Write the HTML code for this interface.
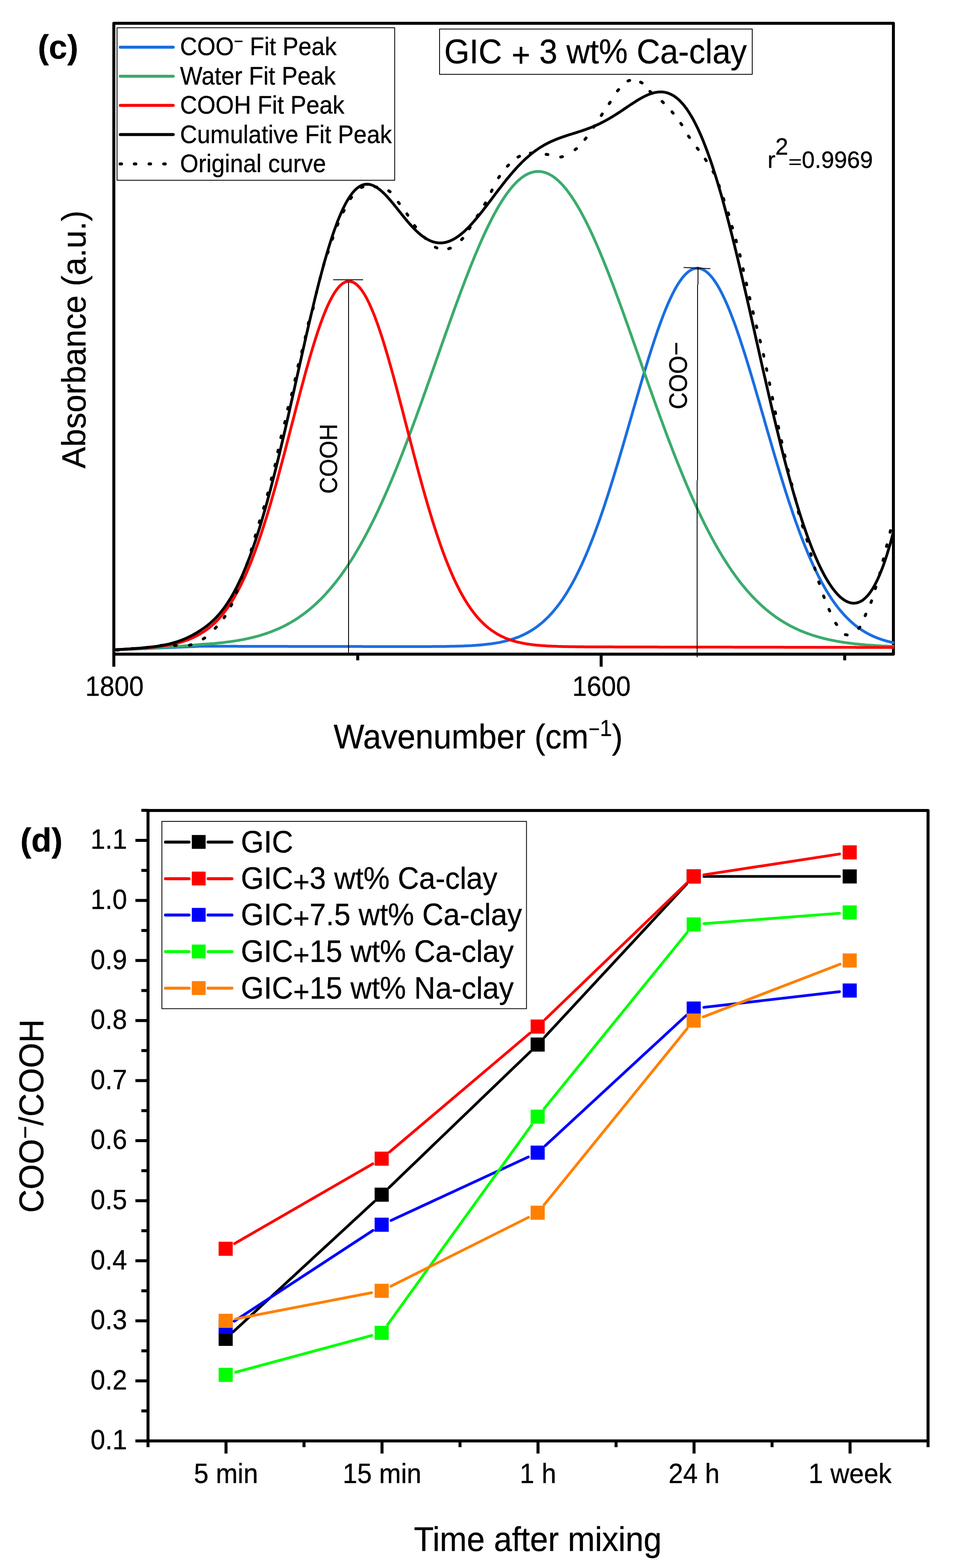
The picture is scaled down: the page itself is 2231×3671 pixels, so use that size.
<!DOCTYPE html>
<html lang="en"><head><meta charset="utf-8"><title>Figure</title>
<style>html,body{margin:0;padding:0;background:#fff}body{width:2231px;height:3671px;overflow:hidden}svg{display:block}text{white-space:pre;stroke:#000;stroke-width:.45px;stroke-linejoin:round}</style>
</head><body>
<svg width="2231" height="3671" viewBox="0 0 2231 3671" font-family='"Liberation Sans", sans-serif' fill="#000">
<rect width="2231" height="3671" fill="#fff"/>
<rect x="266.5" y="54.5" width="1825.0" height="1476.9" fill="none" stroke="#000" stroke-width="7" stroke-linejoin="round"/>
<line x1="266.5" y1="1531.4" x2="266.5" y2="1560.9" stroke="#000" stroke-width="7"/>
<line x1="837.5" y1="1531.4" x2="837.5" y2="1546.0" stroke="#000" stroke-width="7"/>
<line x1="1407.3" y1="1531.4" x2="1407.3" y2="1560.9" stroke="#000" stroke-width="7"/>
<line x1="1977.5" y1="1531.4" x2="1977.5" y2="1546.0" stroke="#000" stroke-width="7"/>
<clipPath id="clipc"><rect x="263.0" y="54.5" width="1830.5" height="1480.9"/></clipPath>
<g clip-path="url(#clipc)">
<path d="M266.5,1521.5 L270.9,1521.3 L275.2,1521.1 L279.6,1521.0 L283.9,1520.8 L288.3,1520.6 L292.7,1520.4 L297.0,1520.2 L301.4,1520.0 L305.7,1519.9 L310.1,1519.7 L314.5,1519.5 L318.8,1519.3 L323.2,1519.1 L327.5,1519.0 L331.9,1518.8 L336.3,1518.6 L340.6,1518.4 L345.0,1518.2 L349.3,1518.0 L353.7,1517.9 L358.1,1517.7 L362.4,1517.5 L366.8,1517.3 L371.1,1517.1 L375.5,1516.9 L379.9,1516.8 L384.2,1516.6 L388.6,1516.4 L393.0,1516.2 L397.3,1516.0 L401.7,1515.9 L406.0,1515.7 L410.4,1515.5 L414.8,1515.3 L419.1,1515.1 L423.5,1514.9 L427.8,1514.8 L432.2,1514.6 L436.6,1514.4 L440.9,1514.2 L445.3,1514.0 L449.6,1513.9 L454.0,1513.7 L458.4,1513.5 L462.7,1513.3 L467.1,1513.1 L471.4,1513.0 L475.8,1513.0 L480.2,1513.0 L484.5,1513.0 L488.9,1513.0 L493.2,1513.0 L497.6,1513.0 L502.0,1513.1 L506.3,1513.1 L510.7,1513.1 L515.0,1513.1 L519.4,1513.1 L523.8,1513.1 L528.1,1513.1 L532.5,1513.1 L536.8,1513.1 L541.2,1513.1 L545.6,1513.1 L549.9,1513.1 L554.3,1513.1 L558.6,1513.2 L563.0,1513.2 L567.4,1513.2 L571.7,1513.2 L576.1,1513.2 L580.4,1513.2 L584.8,1513.2 L589.2,1513.2 L593.5,1513.2 L597.9,1513.2 L602.2,1513.2 L606.6,1513.2 L611.0,1513.2 L615.3,1513.3 L619.7,1513.3 L624.1,1513.3 L628.4,1513.3 L632.8,1513.3 L637.1,1513.3 L641.5,1513.3 L645.9,1513.3 L650.2,1513.3 L654.6,1513.3 L658.9,1513.3 L663.3,1513.3 L667.7,1513.3 L672.0,1513.3 L676.4,1513.4 L680.7,1513.4 L685.1,1513.4 L689.5,1513.4 L693.8,1513.4 L698.2,1513.4 L702.5,1513.4 L706.9,1513.4 L711.3,1513.4 L715.6,1513.4 L720.0,1513.4 L724.3,1513.4 L728.7,1513.4 L733.1,1513.5 L737.4,1513.5 L741.8,1513.5 L746.1,1513.5 L750.5,1513.5 L754.9,1513.5 L759.2,1513.5 L763.6,1513.5 L767.9,1513.5 L772.3,1513.5 L776.7,1513.5 L781.0,1513.5 L785.4,1513.5 L789.7,1513.6 L794.1,1513.6 L798.5,1513.6 L802.8,1513.6 L807.2,1513.6 L811.5,1513.6 L815.9,1513.6 L820.3,1513.6 L824.6,1513.6 L829.0,1513.6 L833.3,1513.6 L837.7,1513.6 L842.1,1513.6 L846.4,1513.6 L850.8,1513.7 L855.2,1513.7 L859.5,1513.7 L863.9,1513.7 L868.2,1513.7 L872.6,1513.7 L877.0,1513.7 L881.3,1513.7 L885.7,1513.7 L890.0,1513.7 L894.4,1513.7 L898.8,1513.7 L903.1,1513.7 L907.5,1513.7 L911.8,1513.7 L916.2,1513.7 L920.6,1513.8 L924.9,1513.8 L929.3,1513.8 L933.6,1513.8 L938.0,1513.8 L942.4,1513.8 L946.7,1513.8 L951.1,1513.8 L955.4,1513.8 L959.8,1513.8 L964.2,1513.8 L968.5,1513.8 L972.9,1513.8 L977.2,1513.8 L981.6,1513.8 L986.0,1513.7 L990.3,1513.7 L994.7,1513.7 L999.0,1513.7 L1003.4,1513.7 L1007.8,1513.7 L1012.1,1513.6 L1016.5,1513.6 L1020.8,1513.6 L1025.2,1513.5 L1029.6,1513.5 L1033.9,1513.5 L1038.3,1513.4 L1042.6,1513.4 L1047.0,1513.3 L1051.4,1513.2 L1055.7,1513.1 L1060.1,1513.1 L1064.4,1513.0 L1068.8,1512.8 L1073.2,1512.7 L1077.5,1512.6 L1081.9,1512.4 L1086.3,1512.3 L1090.6,1512.1 L1095.0,1511.9 L1099.3,1511.7 L1103.7,1511.5 L1108.1,1511.2 L1112.4,1510.9 L1116.8,1510.6 L1121.1,1510.3 L1125.5,1509.9 L1129.9,1509.5 L1134.2,1509.1 L1138.6,1508.6 L1142.9,1508.1 L1147.3,1507.6 L1151.7,1507.0 L1156.0,1506.3 L1160.4,1505.6 L1164.7,1504.9 L1169.1,1504.1 L1173.5,1503.2 L1177.8,1502.2 L1182.2,1501.2 L1186.5,1500.1 L1190.9,1498.9 L1195.3,1497.7 L1199.6,1496.3 L1204.0,1494.9 L1208.3,1493.3 L1212.7,1491.7 L1217.1,1489.9 L1221.4,1488.0 L1225.8,1486.0 L1230.1,1483.8 L1234.5,1481.5 L1238.9,1479.1 L1243.2,1476.5 L1247.6,1473.8 L1251.9,1470.9 L1256.3,1467.8 L1260.7,1464.5 L1265.0,1461.1 L1269.4,1457.4 L1273.7,1453.6 L1278.1,1449.5 L1282.5,1445.2 L1286.8,1440.7 L1291.2,1436.0 L1295.6,1431.0 L1299.9,1425.8 L1304.3,1420.3 L1308.6,1414.6 L1313.0,1408.6 L1317.4,1402.3 L1321.7,1395.8 L1326.1,1389.0 L1330.4,1381.8 L1334.8,1374.4 L1339.2,1366.7 L1343.5,1358.7 L1347.9,1350.4 L1352.2,1341.8 L1356.6,1332.8 L1361.0,1323.6 L1365.3,1314.0 L1369.7,1304.1 L1374.0,1293.9 L1378.4,1283.4 L1382.8,1272.6 L1387.1,1261.5 L1391.5,1250.1 L1395.8,1238.4 L1400.2,1226.4 L1404.6,1214.1 L1408.9,1201.5 L1413.3,1188.7 L1417.6,1175.6 L1422.0,1162.2 L1426.4,1148.6 L1430.7,1134.8 L1435.1,1120.8 L1439.4,1106.6 L1443.8,1092.2 L1448.2,1077.7 L1452.5,1063.0 L1456.9,1048.2 L1461.2,1033.3 L1465.6,1018.3 L1470.0,1003.2 L1474.3,988.1 L1478.7,973.0 L1483.0,957.9 L1487.4,942.8 L1491.8,927.7 L1496.1,912.8 L1500.5,897.9 L1504.8,883.2 L1509.2,868.7 L1513.6,854.3 L1517.9,840.2 L1522.3,826.3 L1526.7,812.6 L1531.0,799.3 L1535.4,786.3 L1539.7,773.6 L1544.1,761.3 L1548.5,749.4 L1552.8,737.9 L1557.2,726.9 L1561.5,716.4 L1565.9,706.3 L1570.3,696.8 L1574.6,687.9 L1579.0,679.4 L1583.3,671.6 L1587.7,664.4 L1592.1,657.8 L1596.4,651.8 L1600.8,646.4 L1605.1,641.8 L1609.5,637.8 L1613.9,634.4 L1618.2,631.8 L1622.6,629.8 L1626.9,628.6 L1631.3,628.0 L1635.7,628.2 L1640.0,629.0 L1644.4,630.6 L1648.7,632.8 L1653.1,635.8 L1657.5,639.4 L1661.8,643.7 L1666.2,648.6 L1670.5,654.3 L1674.9,660.5 L1679.3,667.4 L1683.6,674.9 L1688.0,683.0 L1692.3,691.6 L1696.7,700.8 L1701.1,710.6 L1705.4,720.8 L1709.8,731.6 L1714.1,742.8 L1718.5,754.4 L1722.9,766.5 L1727.2,779.0 L1731.6,791.8 L1735.9,805.0 L1740.3,818.5 L1744.7,832.2 L1749.0,846.2 L1753.4,860.5 L1757.8,875.0 L1762.1,889.6 L1766.5,904.4 L1770.8,919.3 L1775.2,934.3 L1779.6,949.4 L1783.9,964.5 L1788.3,979.6 L1792.6,994.8 L1797.0,1009.9 L1801.4,1024.9 L1805.7,1039.9 L1810.1,1054.8 L1814.4,1069.6 L1818.8,1084.2 L1823.2,1098.7 L1827.5,1113.1 L1831.9,1127.2 L1836.2,1141.1 L1840.6,1154.9 L1845.0,1168.4 L1849.3,1181.6 L1853.7,1194.6 L1858.0,1207.4 L1862.4,1219.9 L1866.8,1232.0 L1871.1,1244.0 L1875.5,1255.6 L1879.8,1266.9 L1884.2,1277.9 L1888.6,1288.6 L1892.9,1299.0 L1897.3,1309.1 L1901.6,1318.8 L1906.0,1328.3 L1910.4,1337.4 L1914.7,1346.2 L1919.1,1354.8 L1923.4,1363.0 L1927.8,1370.9 L1932.2,1378.5 L1936.5,1385.8 L1940.9,1392.8 L1945.2,1399.6 L1949.6,1406.0 L1954.0,1412.2 L1958.3,1418.1 L1962.7,1423.7 L1967.0,1429.1 L1971.4,1434.2 L1975.8,1439.1 L1980.1,1443.8 L1984.5,1448.2 L1988.9,1452.4 L1993.2,1456.4 L1997.6,1460.2 L2001.9,1463.8 L2006.3,1467.1 L2010.7,1470.4 L2015.0,1473.4 L2019.4,1476.2 L2023.7,1478.9 L2028.1,1481.5 L2032.5,1483.9 L2036.8,1486.1 L2041.2,1488.2 L2045.5,1490.2 L2049.9,1492.1 L2054.3,1493.8 L2058.6,1495.4 L2063.0,1497.0 L2067.3,1498.4 L2071.7,1499.7 L2076.1,1501.0 L2080.4,1502.1 L2084.8,1503.2 L2089.1,1504.2 L2093.5,1505.1" fill="none" stroke="#1a6ee0" stroke-width="6.5" stroke-linejoin="round"/>
<path d="M266.5,1521.3 L270.9,1521.1 L275.2,1520.9 L279.6,1520.7 L283.9,1520.5 L288.3,1520.3 L292.7,1520.1 L297.0,1519.9 L301.4,1519.7 L305.7,1519.5 L310.1,1519.3 L314.5,1519.1 L318.8,1518.9 L323.2,1518.7 L327.5,1518.5 L331.9,1518.2 L336.3,1518.0 L340.6,1517.8 L345.0,1517.6 L349.3,1517.3 L353.7,1517.1 L358.1,1516.9 L362.4,1516.6 L366.8,1516.4 L371.1,1516.1 L375.5,1515.9 L379.9,1515.6 L384.2,1515.4 L388.6,1515.1 L393.0,1514.8 L397.3,1514.6 L401.7,1514.3 L406.0,1514.0 L410.4,1513.7 L414.8,1513.4 L419.1,1513.1 L423.5,1512.7 L427.8,1512.4 L432.2,1512.1 L436.6,1511.7 L440.9,1511.4 L445.3,1511.0 L449.6,1510.6 L454.0,1510.2 L458.4,1509.8 L462.7,1509.4 L467.1,1509.0 L471.4,1508.6 L475.8,1508.3 L480.2,1508.1 L484.5,1507.8 L488.9,1507.4 L493.2,1507.1 L497.6,1506.7 L502.0,1506.4 L506.3,1506.0 L510.7,1505.6 L515.0,1505.1 L519.4,1504.7 L523.8,1504.2 L528.1,1503.6 L532.5,1503.1 L536.8,1502.5 L541.2,1501.9 L545.6,1501.3 L549.9,1500.6 L554.3,1499.9 L558.6,1499.2 L563.0,1498.4 L567.4,1497.6 L571.7,1496.8 L576.1,1495.9 L580.4,1494.9 L584.8,1494.0 L589.2,1492.9 L593.5,1491.9 L597.9,1490.7 L602.2,1489.6 L606.6,1488.3 L611.0,1487.1 L615.3,1485.7 L619.7,1484.3 L624.1,1482.9 L628.4,1481.3 L632.8,1479.7 L637.1,1478.1 L641.5,1476.3 L645.9,1474.5 L650.2,1472.7 L654.6,1470.7 L658.9,1468.7 L663.3,1466.6 L667.7,1464.4 L672.0,1462.1 L676.4,1459.7 L680.7,1457.2 L685.1,1454.7 L689.5,1452.0 L693.8,1449.2 L698.2,1446.4 L702.5,1443.4 L706.9,1440.3 L711.3,1437.1 L715.6,1433.8 L720.0,1430.4 L724.3,1426.9 L728.7,1423.2 L733.1,1419.5 L737.4,1415.6 L741.8,1411.5 L746.1,1407.4 L750.5,1403.1 L754.9,1398.7 L759.2,1394.1 L763.6,1389.4 L767.9,1384.5 L772.3,1379.6 L776.7,1374.4 L781.0,1369.1 L785.4,1363.7 L789.7,1358.1 L794.1,1352.4 L798.5,1346.5 L802.8,1340.4 L807.2,1334.2 L811.5,1327.8 L815.9,1321.3 L820.3,1314.6 L824.6,1307.7 L829.0,1300.7 L833.3,1293.4 L837.7,1286.1 L842.1,1278.5 L846.4,1270.8 L850.8,1263.0 L855.2,1254.9 L859.5,1246.7 L863.9,1238.3 L868.2,1229.8 L872.6,1221.1 L877.0,1212.2 L881.3,1203.2 L885.7,1194.0 L890.0,1184.6 L894.4,1175.1 L898.8,1165.4 L903.1,1155.6 L907.5,1145.6 L911.8,1135.4 L916.2,1125.1 L920.6,1114.7 L924.9,1104.1 L929.3,1093.4 L933.6,1082.6 L938.0,1071.6 L942.4,1060.5 L946.7,1049.2 L951.1,1037.9 L955.4,1026.4 L959.8,1014.9 L964.2,1003.2 L968.5,991.4 L972.9,979.6 L977.2,967.6 L981.6,955.6 L986.0,943.5 L990.3,931.3 L994.7,919.1 L999.0,906.9 L1003.4,894.5 L1007.8,882.2 L1012.1,869.8 L1016.5,857.4 L1020.8,845.0 L1025.2,832.6 L1029.6,820.2 L1033.9,807.8 L1038.3,795.4 L1042.6,783.1 L1047.0,770.8 L1051.4,758.5 L1055.7,746.3 L1060.1,734.2 L1064.4,722.1 L1068.8,710.2 L1073.2,698.3 L1077.5,686.5 L1081.9,674.9 L1086.3,663.3 L1090.6,651.9 L1095.0,640.7 L1099.3,629.6 L1103.7,618.6 L1108.1,607.9 L1112.4,597.3 L1116.8,586.9 L1121.1,576.7 L1125.5,566.7 L1129.9,556.9 L1134.2,547.4 L1138.6,538.0 L1142.9,529.0 L1147.3,520.2 L1151.7,511.6 L1156.0,503.3 L1160.4,495.3 L1164.7,487.6 L1169.1,480.1 L1173.5,473.0 L1177.8,466.2 L1182.2,459.6 L1186.5,453.4 L1190.9,447.6 L1195.3,442.0 L1199.6,436.8 L1204.0,431.9 L1208.3,427.4 L1212.7,423.2 L1217.1,419.4 L1221.4,415.9 L1225.8,412.8 L1230.1,410.1 L1234.5,407.7 L1238.9,405.7 L1243.2,404.1 L1247.6,402.9 L1251.9,402.0 L1256.3,401.5 L1260.7,401.4 L1265.0,401.6 L1269.4,402.3 L1273.7,403.3 L1278.1,404.6 L1282.5,406.4 L1286.8,408.5 L1291.2,411.0 L1295.6,413.9 L1299.9,417.1 L1304.3,420.7 L1308.6,424.6 L1313.0,428.9 L1317.4,433.6 L1321.7,438.6 L1326.1,443.9 L1330.4,449.6 L1334.8,455.6 L1339.2,461.9 L1343.5,468.5 L1347.9,475.5 L1352.2,482.7 L1356.6,490.2 L1361.0,498.1 L1365.3,506.2 L1369.7,514.6 L1374.0,523.2 L1378.4,532.1 L1382.8,541.3 L1387.1,550.7 L1391.5,560.3 L1395.8,570.2 L1400.2,580.3 L1404.6,590.5 L1408.9,601.0 L1413.3,611.7 L1417.6,622.5 L1422.0,633.5 L1426.4,644.7 L1430.7,656.0 L1435.1,667.5 L1439.4,679.0 L1443.8,690.8 L1448.2,702.6 L1452.5,714.5 L1456.9,726.5 L1461.2,738.6 L1465.6,750.8 L1470.0,763.0 L1474.3,775.3 L1478.7,787.6 L1483.0,800.0 L1487.4,812.4 L1491.8,824.8 L1496.1,837.2 L1500.5,849.6 L1504.8,862.1 L1509.2,874.5 L1513.6,886.9 L1517.9,899.2 L1522.3,911.5 L1526.7,923.8 L1531.0,936.0 L1535.4,948.2 L1539.7,960.2 L1544.1,972.3 L1548.5,984.2 L1552.8,996.0 L1557.2,1007.8 L1561.5,1019.4 L1565.9,1031.0 L1570.3,1042.4 L1574.6,1053.8 L1579.0,1065.0 L1583.3,1076.1 L1587.7,1087.0 L1592.1,1097.8 L1596.4,1108.5 L1600.8,1119.1 L1605.1,1129.5 L1609.5,1139.8 L1613.9,1149.9 L1618.2,1159.8 L1622.6,1169.6 L1626.9,1179.3 L1631.3,1188.8 L1635.7,1198.1 L1640.0,1207.3 L1644.4,1216.3 L1648.7,1225.1 L1653.1,1233.8 L1657.5,1242.3 L1661.8,1250.6 L1666.2,1258.8 L1670.5,1266.8 L1674.9,1274.6 L1679.3,1282.3 L1683.6,1289.8 L1688.0,1297.1 L1692.3,1304.3 L1696.7,1311.3 L1701.1,1318.1 L1705.4,1324.8 L1709.8,1331.3 L1714.1,1337.7 L1718.5,1343.9 L1722.9,1349.9 L1727.2,1355.7 L1731.6,1361.5 L1735.9,1367.0 L1740.3,1372.4 L1744.7,1377.7 L1749.0,1382.8 L1753.4,1387.7 L1757.8,1392.6 L1762.1,1397.2 L1766.5,1401.8 L1770.8,1406.2 L1775.2,1410.4 L1779.6,1414.6 L1783.9,1418.6 L1788.3,1422.5 L1792.6,1426.2 L1797.0,1429.8 L1801.4,1433.4 L1805.7,1436.7 L1810.1,1440.0 L1814.4,1443.2 L1818.8,1446.2 L1823.2,1449.2 L1827.5,1452.0 L1831.9,1454.8 L1836.2,1457.4 L1840.6,1460.0 L1845.0,1462.4 L1849.3,1464.8 L1853.7,1467.1 L1858.0,1469.3 L1862.4,1471.4 L1866.8,1473.4 L1871.1,1475.4 L1875.5,1477.2 L1879.8,1479.0 L1884.2,1480.7 L1888.6,1482.4 L1892.9,1484.0 L1897.3,1485.5 L1901.6,1487.0 L1906.0,1488.4 L1910.4,1489.7 L1914.7,1491.0 L1919.1,1492.2 L1923.4,1493.4 L1927.8,1494.5 L1932.2,1495.6 L1936.5,1496.6 L1940.9,1497.6 L1945.2,1498.5 L1949.6,1499.4 L1954.0,1500.3 L1958.3,1501.1 L1962.7,1501.8 L1967.0,1502.6 L1971.4,1503.3 L1975.8,1504.0 L1980.1,1504.6 L1984.5,1505.2 L1988.9,1505.8 L1993.2,1506.3 L1997.6,1506.9 L2001.9,1507.4 L2006.3,1507.8 L2010.7,1508.3 L2015.0,1508.7 L2019.4,1509.1 L2023.7,1509.5 L2028.1,1509.9 L2032.5,1510.2 L2036.8,1510.5 L2041.2,1510.8 L2045.5,1511.1 L2049.9,1511.4 L2054.3,1511.7 L2058.6,1511.9 L2063.0,1512.2 L2067.3,1512.4 L2071.7,1512.6 L2076.1,1512.8 L2080.4,1513.0 L2084.8,1513.2 L2089.1,1513.3 L2093.5,1513.5" fill="none" stroke="#3bab6c" stroke-width="6.5" stroke-linejoin="round"/>
<path d="M266.5,1521.3 L270.9,1521.1 L275.2,1520.9 L279.6,1520.7 L283.9,1520.5 L288.3,1520.2 L292.7,1520.0 L297.0,1519.8 L301.4,1519.5 L305.7,1519.3 L310.1,1519.0 L314.5,1518.7 L318.8,1518.5 L323.2,1518.2 L327.5,1517.9 L331.9,1517.5 L336.3,1517.2 L340.6,1516.9 L345.0,1516.5 L349.3,1516.1 L353.7,1515.7 L358.1,1515.2 L362.4,1514.8 L366.8,1514.3 L371.1,1513.8 L375.5,1513.2 L379.9,1512.6 L384.2,1511.9 L388.6,1511.2 L393.0,1510.5 L397.3,1509.7 L401.7,1508.8 L406.0,1507.9 L410.4,1506.9 L414.8,1505.9 L419.1,1504.7 L423.5,1503.5 L427.8,1502.2 L432.2,1500.7 L436.6,1499.2 L440.9,1497.6 L445.3,1495.8 L449.6,1493.9 L454.0,1491.9 L458.4,1489.7 L462.7,1487.4 L467.1,1484.9 L471.4,1482.3 L475.8,1479.6 L480.2,1476.7 L484.5,1473.7 L488.9,1470.4 L493.2,1466.9 L497.6,1463.1 L502.0,1459.1 L506.3,1454.9 L510.7,1450.4 L515.0,1445.6 L519.4,1440.5 L523.8,1435.1 L528.1,1429.4 L532.5,1423.4 L536.8,1417.0 L541.2,1410.3 L545.6,1403.2 L549.9,1395.8 L554.3,1388.0 L558.6,1379.9 L563.0,1371.3 L567.4,1362.4 L571.7,1353.1 L576.1,1343.3 L580.4,1333.2 L584.8,1322.7 L589.2,1311.7 L593.5,1300.4 L597.9,1288.6 L602.2,1276.5 L606.6,1264.0 L611.0,1251.0 L615.3,1237.7 L619.7,1224.1 L624.1,1210.1 L628.4,1195.7 L632.8,1181.0 L637.1,1166.0 L641.5,1150.7 L645.9,1135.1 L650.2,1119.3 L654.6,1103.2 L658.9,1086.9 L663.3,1070.5 L667.7,1053.9 L672.0,1037.2 L676.4,1020.4 L680.7,1003.5 L685.1,986.7 L689.5,969.8 L693.8,953.0 L698.2,936.3 L702.5,919.8 L706.9,903.4 L711.3,887.2 L715.6,871.2 L720.0,855.6 L724.3,840.3 L728.7,825.3 L733.1,810.8 L737.4,796.7 L741.8,783.1 L746.1,770.0 L750.5,757.5 L754.9,745.6 L759.2,734.4 L763.6,723.8 L767.9,713.9 L772.3,704.8 L776.7,696.4 L781.0,688.8 L785.4,682.0 L789.7,676.1 L794.1,670.9 L798.5,666.7 L802.8,663.3 L807.2,660.9 L811.5,659.3 L815.9,658.6 L820.3,658.9 L824.6,660.0 L829.0,662.0 L833.3,665.0 L837.7,668.8 L842.1,673.5 L846.4,679.0 L850.8,685.4 L855.2,692.6 L859.5,700.6 L863.9,709.4 L868.2,718.9 L872.6,729.2 L877.0,740.1 L881.3,751.7 L885.7,763.9 L890.0,776.7 L894.4,790.1 L898.8,803.9 L903.1,818.3 L907.5,833.0 L911.8,848.2 L916.2,863.7 L920.6,879.5 L924.9,895.6 L929.3,911.9 L933.6,928.4 L938.0,945.1 L942.4,961.8 L946.7,978.7 L951.1,995.6 L955.4,1012.4 L959.8,1029.3 L964.2,1046.0 L968.5,1062.7 L972.9,1079.2 L977.2,1095.6 L981.6,1111.8 L986.0,1127.8 L990.3,1143.5 L994.7,1159.0 L999.0,1174.1 L1003.4,1189.0 L1007.8,1203.6 L1012.1,1217.8 L1016.5,1231.6 L1020.8,1245.1 L1025.2,1258.3 L1029.6,1271.0 L1033.9,1283.4 L1038.3,1295.3 L1042.6,1306.9 L1047.0,1318.0 L1051.4,1328.8 L1055.7,1339.1 L1060.1,1349.1 L1064.4,1358.6 L1068.8,1367.8 L1073.2,1376.5 L1077.5,1384.9 L1081.9,1392.9 L1086.3,1400.5 L1090.6,1407.7 L1095.0,1414.6 L1099.3,1421.2 L1103.7,1427.4 L1108.1,1433.3 L1112.4,1438.8 L1116.8,1444.1 L1121.1,1449.1 L1125.5,1453.7 L1129.9,1458.1 L1134.2,1462.3 L1138.6,1466.1 L1142.9,1469.8 L1147.3,1473.2 L1151.7,1476.4 L1156.0,1479.3 L1160.4,1482.1 L1164.7,1484.7 L1169.1,1487.1 L1173.5,1489.4 L1177.8,1491.4 L1182.2,1493.4 L1186.5,1495.2 L1190.9,1496.8 L1195.3,1498.3 L1199.6,1499.8 L1204.0,1501.1 L1208.3,1502.3 L1212.7,1503.4 L1217.1,1504.4 L1221.4,1505.3 L1225.8,1506.2 L1230.1,1506.9 L1234.5,1507.7 L1238.9,1508.3 L1243.2,1508.9 L1247.6,1509.4 L1251.9,1509.9 L1256.3,1510.4 L1260.7,1510.8 L1265.0,1511.2 L1269.4,1511.5 L1273.7,1511.8 L1278.1,1512.1 L1282.5,1512.4 L1286.8,1512.6 L1291.2,1512.8 L1295.6,1513.0 L1299.9,1513.1 L1304.3,1513.3 L1308.6,1513.4 L1313.0,1513.5 L1317.4,1513.7 L1321.7,1513.8 L1326.1,1513.8 L1330.4,1513.9 L1334.8,1514.0 L1339.2,1514.1 L1343.5,1514.1 L1347.9,1514.2 L1352.2,1514.2 L1356.6,1514.3 L1361.0,1514.3 L1365.3,1514.3 L1369.7,1514.4 L1374.0,1514.4 L1378.4,1514.4 L1382.8,1514.5 L1387.1,1514.5 L1391.5,1514.5 L1395.8,1514.5 L1400.2,1514.5 L1404.6,1514.6 L1408.9,1514.6 L1413.3,1514.6 L1417.6,1514.6 L1422.0,1514.6 L1426.4,1514.6 L1430.7,1514.6 L1435.1,1514.6 L1439.4,1514.7 L1443.8,1514.7 L1448.2,1514.7 L1452.5,1514.7 L1456.9,1514.7 L1461.2,1514.7 L1465.6,1514.7 L1470.0,1514.7 L1474.3,1514.7 L1478.7,1514.7 L1483.0,1514.7 L1487.4,1514.8 L1491.8,1514.8 L1496.1,1514.8 L1500.5,1514.8 L1504.8,1514.8 L1509.2,1514.8 L1513.6,1514.8 L1517.9,1514.8 L1522.3,1514.8 L1526.7,1514.8 L1531.0,1514.8 L1535.4,1514.8 L1539.7,1514.8 L1544.1,1514.9 L1548.5,1514.9 L1552.8,1514.9 L1557.2,1514.9 L1561.5,1514.9 L1565.9,1514.9 L1570.3,1514.9 L1574.6,1514.9 L1579.0,1514.9 L1583.3,1514.9 L1587.7,1514.9 L1592.1,1514.9 L1596.4,1514.9 L1600.8,1515.0 L1605.1,1515.0 L1609.5,1515.0 L1613.9,1515.0 L1618.2,1515.0 L1622.6,1515.0 L1626.9,1515.0 L1631.3,1515.0 L1635.7,1515.0 L1640.0,1515.0 L1644.4,1515.0 L1648.7,1515.0 L1653.1,1515.0 L1657.5,1515.0 L1661.8,1515.1 L1666.2,1515.1 L1670.5,1515.1 L1674.9,1515.1 L1679.3,1515.1 L1683.6,1515.1 L1688.0,1515.1 L1692.3,1515.1 L1696.7,1515.1 L1701.1,1515.1 L1705.4,1515.1 L1709.8,1515.1 L1714.1,1515.1 L1718.5,1515.2 L1722.9,1515.2 L1727.2,1515.2 L1731.6,1515.2 L1735.9,1515.2 L1740.3,1515.2 L1744.7,1515.2 L1749.0,1515.2 L1753.4,1515.2 L1757.8,1515.2 L1762.1,1515.2 L1766.5,1515.2 L1770.8,1515.2 L1775.2,1515.3 L1779.6,1515.3 L1783.9,1515.3 L1788.3,1515.3 L1792.6,1515.3 L1797.0,1515.3 L1801.4,1515.3 L1805.7,1515.3 L1810.1,1515.3 L1814.4,1515.3 L1818.8,1515.3 L1823.2,1515.3 L1827.5,1515.3 L1831.9,1515.3 L1836.2,1515.4 L1840.6,1515.4 L1845.0,1515.4 L1849.3,1515.4 L1853.7,1515.4 L1858.0,1515.4 L1862.4,1515.4 L1866.8,1515.4 L1871.1,1515.4 L1875.5,1515.4 L1879.8,1515.4 L1884.2,1515.4 L1888.6,1515.4 L1892.9,1515.5 L1897.3,1515.5 L1901.6,1515.5 L1906.0,1515.5 L1910.4,1515.5 L1914.7,1515.5 L1919.1,1515.5 L1923.4,1515.5 L1927.8,1515.5 L1932.2,1515.5 L1936.5,1515.5 L1940.9,1515.5 L1945.2,1515.5 L1949.6,1515.6 L1954.0,1515.6 L1958.3,1515.6 L1962.7,1515.6 L1967.0,1515.6 L1971.4,1515.6 L1975.8,1515.6 L1980.1,1515.6 L1984.5,1515.6 L1988.9,1515.6 L1993.2,1515.6 L1997.6,1515.6 L2001.9,1515.6 L2006.3,1515.7 L2010.7,1515.7 L2015.0,1515.7 L2019.4,1515.7 L2023.7,1515.7 L2028.1,1515.7 L2032.5,1515.7 L2036.8,1515.7 L2041.2,1515.7 L2045.5,1515.7 L2049.9,1515.7 L2054.3,1515.7 L2058.6,1515.7 L2063.0,1515.7 L2067.3,1515.8 L2071.7,1515.8 L2076.1,1515.8 L2080.4,1515.8 L2084.8,1515.8 L2089.1,1515.8 L2093.5,1515.8" fill="none" stroke="#ff0000" stroke-width="6.5" stroke-linejoin="round"/>
<path d="M266.5,1521.1 L270.9,1520.9 L275.2,1520.7 L279.6,1520.5 L283.9,1520.2 L288.3,1520.0 L292.7,1519.7 L297.0,1519.5 L301.4,1519.2 L305.7,1518.9 L310.1,1518.6 L314.5,1518.3 L318.8,1518.0 L323.2,1517.7 L327.5,1517.4 L331.9,1517.0 L336.3,1516.6 L340.6,1516.2 L345.0,1515.8 L349.3,1515.3 L353.7,1514.8 L358.1,1514.3 L362.4,1513.7 L366.8,1513.1 L371.1,1512.5 L375.5,1511.8 L379.9,1511.0 L384.2,1510.2 L388.6,1509.3 L393.0,1508.3 L397.3,1507.3 L401.7,1506.2 L406.0,1505.0 L410.4,1503.7 L414.8,1502.3 L419.1,1500.8 L423.5,1499.2 L427.8,1497.6 L432.2,1495.8 L436.6,1493.9 L440.9,1491.9 L445.3,1489.8 L449.6,1487.5 L454.0,1485.2 L458.4,1482.7 L462.7,1480.0 L467.1,1477.2 L471.4,1474.4 L475.8,1471.4 L480.2,1468.4 L484.5,1465.1 L488.9,1461.6 L493.2,1457.9 L497.6,1453.9 L502.0,1449.7 L506.3,1445.3 L510.7,1440.5 L515.0,1435.5 L519.4,1430.1 L523.8,1424.4 L528.1,1418.4 L532.5,1412.0 L536.8,1405.3 L541.2,1398.1 L545.6,1390.5 L549.9,1382.6 L554.3,1374.2 L558.6,1365.4 L563.0,1356.2 L567.4,1346.5 L571.7,1336.4 L576.1,1325.8 L580.4,1314.8 L584.8,1303.3 L589.2,1291.4 L593.5,1279.0 L597.9,1266.1 L602.2,1252.8 L606.6,1239.0 L611.0,1224.8 L615.3,1210.2 L619.7,1195.1 L624.1,1179.6 L628.4,1163.7 L632.8,1147.4 L637.1,1130.8 L641.5,1113.7 L645.9,1096.3 L650.2,1078.6 L654.6,1060.6 L658.9,1042.3 L663.3,1023.7 L667.7,1004.9 L672.0,985.9 L676.4,966.7 L680.7,947.4 L685.1,928.0 L689.5,908.4 L693.8,888.9 L698.2,869.3 L702.5,849.7 L706.9,830.3 L711.3,810.9 L715.6,791.6 L720.0,772.5 L724.3,753.7 L728.7,735.0 L733.1,716.7 L737.4,698.7 L741.8,681.0 L746.1,663.8 L750.5,647.0 L754.9,630.6 L759.2,614.7 L763.6,599.4 L767.9,584.6 L772.3,570.4 L776.7,556.8 L781.0,543.8 L785.4,531.5 L789.7,519.8 L794.1,508.9 L798.5,498.6 L802.8,489.1 L807.2,480.3 L811.5,472.2 L815.9,464.9 L820.3,458.3 L824.6,452.4 L829.0,447.3 L833.3,442.9 L837.7,439.2 L842.1,436.3 L846.4,434.0 L850.8,432.4 L855.2,431.5 L859.5,431.3 L863.9,431.6 L868.2,432.5 L872.6,434.0 L877.0,436.0 L881.3,438.5 L885.7,441.5 L890.0,444.8 L894.4,448.6 L898.8,452.7 L903.1,457.1 L907.5,461.8 L911.8,466.7 L916.2,471.8 L920.6,477.0 L924.9,482.4 L929.3,487.8 L933.6,493.3 L938.0,498.8 L942.4,504.2 L946.7,509.6 L951.1,514.9 L955.4,520.0 L959.8,525.0 L964.2,529.9 L968.5,534.5 L972.9,538.9 L977.2,543.0 L981.6,546.9 L986.0,550.5 L990.3,553.8 L994.7,556.8 L999.0,559.5 L1003.4,561.9 L1007.8,563.9 L1012.1,565.6 L1016.5,566.9 L1020.8,567.9 L1025.2,568.5 L1029.6,568.8 L1033.9,568.7 L1038.3,568.3 L1042.6,567.5 L1047.0,566.4 L1051.4,564.9 L1055.7,563.1 L1060.1,561.0 L1064.4,558.6 L1068.8,555.9 L1073.2,552.9 L1077.5,549.6 L1081.9,546.1 L1086.3,542.3 L1090.6,538.2 L1095.0,534.0 L1099.3,529.5 L1103.7,524.8 L1108.1,519.9 L1112.4,514.9 L1116.8,509.7 L1121.1,504.4 L1125.5,499.0 L1129.9,493.5 L1134.2,487.8 L1138.6,482.2 L1142.9,476.4 L1147.3,470.7 L1151.7,464.9 L1156.0,459.1 L1160.4,453.3 L1164.7,447.5 L1169.1,441.8 L1173.5,436.2 L1177.8,430.6 L1182.2,425.0 L1186.5,419.6 L1190.9,414.3 L1195.3,409.1 L1199.6,404.0 L1204.0,399.0 L1208.3,394.1 L1212.7,389.4 L1217.1,384.9 L1221.4,380.5 L1225.8,376.2 L1230.1,372.1 L1234.5,368.2 L1238.9,364.4 L1243.2,360.8 L1247.6,357.3 L1251.9,354.0 L1256.3,350.9 L1260.7,347.9 L1265.0,345.1 L1269.4,342.4 L1273.7,339.8 L1278.1,337.4 L1282.5,335.1 L1286.8,333.0 L1291.2,330.9 L1295.6,329.0 L1299.9,327.1 L1304.3,325.4 L1308.6,323.7 L1313.0,322.1 L1317.4,320.6 L1321.7,319.1 L1326.1,317.6 L1330.4,316.2 L1334.8,314.9 L1339.2,313.5 L1343.5,312.1 L1347.9,310.8 L1352.2,309.4 L1356.6,308.0 L1361.0,306.6 L1365.3,305.1 L1369.7,303.6 L1374.0,302.0 L1378.4,300.4 L1382.8,298.7 L1387.1,297.0 L1391.5,295.1 L1395.8,293.2 L1400.2,291.2 L1404.6,289.2 L1408.9,287.0 L1413.3,284.7 L1417.7,282.4 L1422.0,280.0 L1426.4,277.5 L1430.7,274.9 L1435.1,272.3 L1439.5,269.6 L1443.8,266.8 L1448.2,264.0 L1452.6,261.1 L1456.9,258.2 L1461.3,255.2 L1465.7,252.3 L1470.0,249.4 L1474.4,246.4 L1478.8,243.5 L1483.1,240.7 L1487.5,237.9 L1491.9,235.1 L1496.2,232.5 L1500.6,230.0 L1505.0,227.6 L1509.4,225.4 L1513.8,223.3 L1518.1,221.4 L1522.5,219.8 L1526.9,218.3 L1531.3,217.1 L1535.7,216.2 L1540.1,215.6 L1544.5,215.2 L1548.8,215.3 L1553.2,215.6 L1557.6,216.3 L1562.0,217.4 L1566.4,219.0 L1570.9,220.9 L1575.3,223.3 L1579.7,226.1 L1584.1,229.4 L1588.5,233.1 L1592.9,237.4 L1597.3,242.2 L1601.8,247.4 L1606.2,253.2 L1610.6,259.5 L1615.0,266.4 L1619.5,273.8 L1623.9,281.7 L1628.3,290.2 L1632.8,299.2 L1637.2,308.8 L1641.7,318.9 L1646.1,329.6 L1650.5,340.8 L1655.0,352.5 L1659.4,364.7 L1663.9,377.4 L1668.3,390.6 L1672.7,404.3 L1677.2,418.5 L1681.6,433.2 L1686.0,448.2 L1690.5,463.7 L1694.9,479.6 L1699.3,495.9 L1703.7,512.6 L1708.1,529.6 L1712.6,546.9 L1717.0,564.5 L1721.4,582.4 L1725.8,600.6 L1730.2,618.9 L1734.5,637.5 L1738.9,656.3 L1743.3,675.2 L1747.7,694.3 L1752.0,713.4 L1756.4,732.7 L1760.7,752.0 L1765.1,771.3 L1769.4,790.7 L1773.8,810.0 L1778.1,829.3 L1782.4,848.5 L1786.7,867.6 L1791.1,886.6 L1795.4,905.5 L1799.7,924.3 L1804.0,942.8 L1808.3,961.2 L1812.6,979.4 L1816.9,997.3 L1821.2,1015.0 L1825.5,1032.4 L1829.7,1049.6 L1834.0,1066.5 L1838.3,1083.0 L1842.6,1099.3 L1846.9,1115.2 L1851.2,1130.7 L1855.4,1146.0 L1859.7,1160.8 L1864.0,1175.3 L1868.3,1189.4 L1872.6,1203.1 L1876.8,1216.5 L1881.1,1229.4 L1885.4,1241.9 L1889.7,1254.1 L1894.0,1265.8 L1898.3,1277.1 L1902.6,1287.9 L1906.9,1298.4 L1911.2,1308.4 L1915.5,1318.0 L1919.8,1327.1 L1924.1,1335.8 L1928.4,1344.1 L1932.7,1351.9 L1937.1,1359.2 L1941.4,1366.2 L1945.7,1372.6 L1950.0,1378.6 L1954.3,1384.1 L1958.7,1389.2 L1963.0,1393.8 L1967.3,1397.9 L1971.7,1401.5 L1976.0,1404.6 L1980.3,1407.2 L1984.7,1409.3 L1989.0,1410.8 L1993.4,1411.8 L1997.7,1412.2 L2002.1,1412.0 L2006.4,1411.3 L2010.8,1409.9 L2015.1,1407.9 L2019.5,1405.2 L2023.8,1401.8 L2028.2,1397.7 L2032.5,1392.9 L2036.9,1387.3 L2041.2,1380.9 L2045.6,1373.8 L2049.9,1365.8 L2054.3,1356.9 L2058.6,1347.2 L2063.0,1336.6 L2067.4,1325.2 L2071.7,1312.8 L2076.1,1299.5 L2080.4,1285.3 L2084.8,1270.3 L2089.1,1254.3 L2093.5,1237.4" fill="none" stroke="#000" stroke-width="6.5" stroke-linejoin="round"/>
<path d="M273.5,1522.2 L277.5,1521.8 M308.0,1518.8 L312.0,1518.5 M342.0,1516.1 L346.0,1515.7 M376.5,1511.1 L380.5,1510.9 M408.5,1511.0 L412.5,1511.0 M443.5,1510.5 L447.3,1509.5 M475.8,1495.9 L479.2,1493.7 M503.7,1470.9 L506.5,1468.1 M524.4,1446.3 L526.6,1443.1 M540.7,1418.4 L542.5,1414.8 M553.7,1387.3 L555.1,1383.5 M564.9,1354.4 L566.3,1350.6 M577.8,1321.5 L579.2,1317.7 M587.9,1288.7 L589.1,1284.9 M597.1,1256.2 L598.3,1252.4 M606.7,1223.3 L607.9,1219.5 M617.1,1190.1 L618.3,1186.3 M626.1,1158.0 L627.1,1154.2 M634.9,1122.7 L635.9,1118.9 M643.5,1090.7 L644.5,1086.9 M650.4,1057.9 L651.2,1053.9 M657.5,1024.5 L658.5,1020.7 M666.3,990.5 L667.3,986.7 M673.5,957.6 L674.5,953.8 M682.4,924.3 L683.4,920.5 M690.5,890.4 L691.3,886.4 M697.6,857.4 L698.6,853.6 M706.4,824.1 L707.4,820.3 M714.5,790.9 L715.3,787.1 M721.6,758.0 L722.6,754.2 M732.5,723.9 L733.5,720.1 M740.5,686.2 L741.5,682.3 M749.0,652.8 L750.0,648.9 M757.4,621.1 L758.6,617.3 M767.1,592.4 L768.3,588.6 M777.9,560.3 L779.3,556.5 M789.8,527.5 L791.4,523.7 M803.7,496.1 L805.5,492.5 M820.6,465.0 L823.0,461.8 M846.1,439.0 L849.7,437.4 M878.0,437.4 L882.0,438.0 M910.0,446.7 L913.2,448.9 M932.5,473.5 L934.9,476.7 M952.6,500.7 L954.8,503.9 M970.5,528.0 L972.9,531.2 M993.6,555.6 L996.4,558.5 M1019.2,578.9 L1022.8,580.5 M1050.4,582.3 L1054.2,581.1 M1080.6,561.0 L1083.4,558.2 M1098.3,535.7 L1100.5,532.3 M1117.1,506.4 L1119.3,503.0 M1134.5,478.4 L1136.5,475.0 M1150.2,448.4 L1152.0,444.8 M1167.2,416.2 L1169.4,412.8 M1187.8,389.1 L1190.6,386.3 M1212.6,367.7 L1216.2,365.9 M1241.7,358.6 L1245.7,358.2 M1278.6,361.4 L1282.6,361.8 M1312.6,367.6 L1316.6,366.8 M1346.3,350.4 L1349.5,348.0 M1369.4,326.3 L1372.0,323.1 M1389.7,298.0 L1391.9,294.6 M1407.7,270.3 L1409.9,266.9 M1426.2,242.7 L1428.4,239.3 M1445.6,212.8 L1448.2,209.8 M1470.2,189.5 L1474.0,188.3 M1499.6,192.4 L1503.2,194.2 M1521.5,214.0 L1524.5,216.6 M1550.0,237.6 L1553.0,240.4 M1573.2,261.9 L1575.8,264.9 M1593.8,288.8 L1596.0,292.2 M1611.8,318.6 L1614.0,322.0 M1632.2,346.8 L1634.6,350.0 M1651.1,372.7 L1653.3,376.1 M1669.3,401.5 L1671.1,405.1 M1682.8,433.5 L1684.2,437.3 M1693.7,464.7 L1694.9,468.5 M1704.9,498.6 L1706.1,502.4 M1713.8,530.1 L1714.8,533.9 M1723.0,562.2 L1724.0,566.0 M1731.9,595.9 L1732.9,599.7 M1739.6,629.1 L1740.4,633.1 M1747.2,662.7 L1748.0,666.7 M1754.7,696.1 L1755.7,699.9 M1762.7,729.8 L1763.7,733.6 M1770.7,763.0 L1771.7,766.8 M1779.2,796.7 L1780.2,800.5 M1787.3,829.9 L1788.1,833.9 M1794.3,863.1 L1795.1,867.1 M1801.3,896.2 L1802.1,900.2 M1808.1,930.2 L1808.9,934.2 M1814.9,964.2 L1815.7,968.2 M1822.1,998.3 L1822.9,1002.3 M1829.4,1031.6 L1830.2,1035.6 M1837.0,1065.2 L1837.8,1069.2 M1844.5,1099.0 L1845.5,1102.8 M1852.9,1131.9 L1853.9,1135.7 M1861.3,1165.5 L1862.3,1169.3 M1869.0,1198.4 L1870.0,1202.2 M1878.4,1230.5 L1879.6,1234.3 M1888.8,1263.1 L1890.0,1266.9 M1898.1,1296.3 L1899.1,1300.1 M1907.3,1329.6 L1908.3,1333.4 M1916.8,1362.5 L1918.0,1366.3 M1928.0,1395.3 L1929.4,1399.1 M1940.7,1426.7 L1942.3,1430.3 M1956.4,1459.0 L1958.6,1462.2 M1979.2,1485.9 L1983.2,1486.5 M2010.2,1471.2 L2013.0,1468.4 M2025.3,1441.5 L2026.9,1437.9 M2039.0,1410.4 L2040.4,1406.6 M2049.1,1378.3 L2050.3,1374.5 M2059.2,1344.2 L2060.2,1340.4 M2067.2,1312.2 L2068.2,1308.4 M2075.3,1279.3 L2076.3,1275.5 M2083.7,1246.0 L2084.7,1242.2" fill="none" stroke="#000" stroke-width="6.8" stroke-linecap="round"/>
</g>
<path d="M816,660.5 V1531.4 M780,654.9 H850 M1634,624.7 V666.4 M1633,666.4 V1124.5 M1632,1124.5 V1538.8 M1600.4,626.3 L1663.1,629" stroke="#000" stroke-width="2" fill="none"/>
<text transform="translate(268 1629) scale(1.0 1.055)" font-size="61.4" text-anchor="middle">1800</text>
<text transform="translate(1408 1629) scale(1.0 1.055)" font-size="61.4" text-anchor="middle">1600</text>
<text transform="translate(1119.5 1751.5) scale(1.0 1.045)" font-size="76" text-anchor="middle">Wavenumber (cm<tspan font-size="45" dy="-27">&#8722;</tspan><tspan font-size="51">1</tspan><tspan dy="27">)</tspan></text>
<text transform="translate(199.6 795) rotate(-90) scale(1.0 1.03)" font-size="76" text-anchor="middle">Absorbance (a.u.)</text>
<text transform="translate(88.5 137)" font-size="77.5" font-weight="bold">(c)</text>
<rect x="274" y="65" width="650" height="357" fill="#fff" stroke="#000" stroke-width="1.9"/>
<line x1="281.5" y1="110.4" x2="405.5" y2="110.4" stroke="#1a6ee0" stroke-width="7" stroke-linecap="round"/>
<line x1="281.5" y1="178.4" x2="405.5" y2="178.4" stroke="#3bab6c" stroke-width="7" stroke-linecap="round"/>
<line x1="281.5" y1="246.8" x2="405.5" y2="246.8" stroke="#ff0000" stroke-width="7" stroke-linecap="round"/>
<line x1="281.5" y1="315" x2="405.5" y2="315" stroke="#000" stroke-width="7" stroke-linecap="round"/>
<path d="M281,383.7 h3.5 M314.5,383.7 h3.5 M349,383.7 h3.5 M383.3,383.7 h3.5" stroke="#000" stroke-width="7" stroke-linecap="round" fill="none"/>
<text transform="translate(421.5 128.5) scale(1.0 1.06)" font-size="55.4">COO<tspan font-size="37" dy="-17.5">&#8722;</tspan><tspan dy="17.5"> Fit Peak</tspan></text>
<text transform="translate(421.5 198) scale(1.0 1.06)" font-size="55.4">Water Fit Peak</text>
<text transform="translate(421.5 266) scale(1.0 1.06)" font-size="55.4">COOH Fit Peak</text>
<text transform="translate(421.5 334.6) scale(1.0 1.06)" font-size="55.4">Cumulative Fit Peak</text>
<text transform="translate(421.5 402.8) scale(1.0 1.06)" font-size="55.4">Original curve</text>
<rect x="1029" y="68" width="732" height="106" fill="#fff" stroke="#000" stroke-width="1.9"/>
<text transform="translate(1040 148) scale(1.0 1.06)" font-size="76">GIC <tspan dx="1.5" font-size="75" dy="8">+</tspan><tspan dy="-8"> 3 wt% Ca-clay</tspan></text>
<g><text transform="translate(1797 392.8) scale(1.0 1.03)" font-size="54.4">r<tspan dy="-30">2</tspan></text><text transform="translate(1845.4 392.8) scale(1.0 0.76)" font-size="54.4">=</text><text transform="translate(1877.1 392.8) scale(1.0 1.03)" font-size="54.4">0.9969</text></g>
<text transform="translate(788.8 1156) rotate(-90) scale(1.0 1.05)" font-size="54.6">COOH</text>
<text transform="translate(1607.6 958.3) rotate(-90) scale(1.0 1.08)" font-size="55.2">COO<tspan dy="-3.8">&#8722;</tspan></text>
<rect x="346.5" y="1897.5" width="1826.1" height="1476.0" fill="none" stroke="#000" stroke-width="7" stroke-linejoin="round"/>
<line x1="317.0" y1="3373.5" x2="346.5" y2="3373.5" stroke="#000" stroke-width="7"/>
<text transform="translate(297.6 3393.3) scale(1.0 1.055)" font-size="61.6" text-anchor="end">0.1</text>
<line x1="331.0" y1="3303.2" x2="346.5" y2="3303.2" stroke="#000" stroke-width="7"/>
<line x1="317.0" y1="3232.9" x2="346.5" y2="3232.9" stroke="#000" stroke-width="7"/>
<text transform="translate(297.6 3252.7) scale(1.0 1.055)" font-size="61.6" text-anchor="end">0.2</text>
<line x1="331.0" y1="3162.6" x2="346.5" y2="3162.6" stroke="#000" stroke-width="7"/>
<line x1="317.0" y1="3092.3" x2="346.5" y2="3092.3" stroke="#000" stroke-width="7"/>
<text transform="translate(297.6 3112.1) scale(1.0 1.055)" font-size="61.6" text-anchor="end">0.3</text>
<line x1="331.0" y1="3022.0" x2="346.5" y2="3022.0" stroke="#000" stroke-width="7"/>
<line x1="317.0" y1="2951.7" x2="346.5" y2="2951.7" stroke="#000" stroke-width="7"/>
<text transform="translate(297.6 2971.5) scale(1.0 1.055)" font-size="61.6" text-anchor="end">0.4</text>
<line x1="331.0" y1="2881.4" x2="346.5" y2="2881.4" stroke="#000" stroke-width="7"/>
<line x1="317.0" y1="2811.1" x2="346.5" y2="2811.1" stroke="#000" stroke-width="7"/>
<text transform="translate(297.6 2830.9) scale(1.0 1.055)" font-size="61.6" text-anchor="end">0.5</text>
<line x1="331.0" y1="2740.8" x2="346.5" y2="2740.8" stroke="#000" stroke-width="7"/>
<line x1="317.0" y1="2670.5" x2="346.5" y2="2670.5" stroke="#000" stroke-width="7"/>
<text transform="translate(297.6 2690.3) scale(1.0 1.055)" font-size="61.6" text-anchor="end">0.6</text>
<line x1="331.0" y1="2600.2" x2="346.5" y2="2600.2" stroke="#000" stroke-width="7"/>
<line x1="317.0" y1="2529.9" x2="346.5" y2="2529.9" stroke="#000" stroke-width="7"/>
<text transform="translate(297.6 2549.7) scale(1.0 1.055)" font-size="61.6" text-anchor="end">0.7</text>
<line x1="331.0" y1="2459.6" x2="346.5" y2="2459.6" stroke="#000" stroke-width="7"/>
<line x1="317.0" y1="2389.3" x2="346.5" y2="2389.3" stroke="#000" stroke-width="7"/>
<text transform="translate(297.6 2409.1) scale(1.0 1.055)" font-size="61.6" text-anchor="end">0.8</text>
<line x1="331.0" y1="2319.0" x2="346.5" y2="2319.0" stroke="#000" stroke-width="7"/>
<line x1="317.0" y1="2248.7" x2="346.5" y2="2248.7" stroke="#000" stroke-width="7"/>
<text transform="translate(297.6 2268.5) scale(1.0 1.055)" font-size="61.6" text-anchor="end">0.9</text>
<line x1="331.0" y1="2178.4" x2="346.5" y2="2178.4" stroke="#000" stroke-width="7"/>
<line x1="317.0" y1="2108.1" x2="346.5" y2="2108.1" stroke="#000" stroke-width="7"/>
<text transform="translate(297.6 2127.9) scale(1.0 1.055)" font-size="61.6" text-anchor="end">1.0</text>
<line x1="331.0" y1="2037.8" x2="346.5" y2="2037.8" stroke="#000" stroke-width="7"/>
<line x1="317.0" y1="1967.5" x2="346.5" y2="1967.5" stroke="#000" stroke-width="7"/>
<text transform="translate(297.6 1987.3) scale(1.0 1.055)" font-size="61.6" text-anchor="end">1.1</text>
<line x1="331.0" y1="1897.2" x2="346.5" y2="1897.2" stroke="#000" stroke-width="7"/>
<line x1="529.1" y1="3373.5" x2="529.1" y2="3403.0" stroke="#000" stroke-width="7"/>
<line x1="894.3" y1="3373.5" x2="894.3" y2="3403.0" stroke="#000" stroke-width="7"/>
<line x1="1259.5" y1="3373.5" x2="1259.5" y2="3403.0" stroke="#000" stroke-width="7"/>
<line x1="1624.8" y1="3373.5" x2="1624.8" y2="3403.0" stroke="#000" stroke-width="7"/>
<line x1="1990.0" y1="3373.5" x2="1990.0" y2="3403.0" stroke="#000" stroke-width="7"/>
<line x1="346.5" y1="3373.5" x2="346.5" y2="3388.1" stroke="#000" stroke-width="7"/>
<line x1="711.7" y1="3373.5" x2="711.7" y2="3388.1" stroke="#000" stroke-width="7"/>
<line x1="1076.9" y1="3373.5" x2="1076.9" y2="3388.1" stroke="#000" stroke-width="7"/>
<line x1="1442.2" y1="3373.5" x2="1442.2" y2="3388.1" stroke="#000" stroke-width="7"/>
<line x1="1807.4" y1="3373.5" x2="1807.4" y2="3388.1" stroke="#000" stroke-width="7"/>
<line x1="2172.6" y1="3373.5" x2="2172.6" y2="3388.1" stroke="#000" stroke-width="7"/>
<text transform="translate(529.1 3472) scale(1.0 1.045)" font-size="61.4" text-anchor="middle">5 min</text>
<text transform="translate(894.3 3472) scale(1.0 1.045)" font-size="61.4" text-anchor="middle">15 min</text>
<text transform="translate(1259.5 3472) scale(1.0 1.045)" font-size="61.4" text-anchor="middle">1 h</text>
<text transform="translate(1624.8 3472) scale(1.0 1.045)" font-size="61.4" text-anchor="middle">24 h</text>
<text transform="translate(1990.0 3472) scale(1.0 1.045)" font-size="61.4" text-anchor="middle">1 week</text>
<text transform="translate(1259 3631) scale(1.0 1.045)" font-size="76" text-anchor="middle">Time after mixing</text>
<text transform="translate(101.4 2613) rotate(-90) scale(1.0 1.06)" font-size="76" text-anchor="middle">COO<tspan font-size="53" dy="-22">&#8722;</tspan><tspan dy="22">/COOH</tspan></text>
<text transform="translate(47.5 1994)" font-size="77.5" font-weight="bold">(d)</text>
<line x1="545.9" y1="3118.2" x2="875.9" y2="2813.3" stroke="#000" stroke-width="6.4" stroke-linecap="round"/>
<line x1="910.8" y1="2780.4" x2="1241.5" y2="2462.2" stroke="#000" stroke-width="6.4" stroke-linecap="round"/>
<line x1="1275.1" y1="2427.9" x2="1607.6" y2="2069.5" stroke="#000" stroke-width="6.4" stroke-linecap="round"/>
<line x1="1648.0" y1="2051.9" x2="1965.2" y2="2051.9" stroke="#000" stroke-width="6.4" stroke-linecap="round"/>
<rect x="511.8" y="3118.0" width="33" height="33" fill="#000"/>
<rect x="877.0" y="2780.5" width="33" height="33" fill="#000"/>
<rect x="1242.2" y="2429.0" width="33" height="33" fill="#000"/>
<rect x="1607.5" y="2035.4" width="33" height="33" fill="#000"/>
<rect x="1972.7" y="2035.4" width="33" height="33" fill="#000"/>
<line x1="549.1" y1="2911.6" x2="872.7" y2="2724.7" stroke="#ff0000" stroke-width="6.4" stroke-linecap="round"/>
<line x1="911.8" y1="2697.2" x2="1240.4" y2="2418.9" stroke="#ff0000" stroke-width="6.4" stroke-linecap="round"/>
<line x1="1276.0" y1="2386.7" x2="1606.7" y2="2068.5" stroke="#ff0000" stroke-width="6.4" stroke-linecap="round"/>
<line x1="1647.7" y1="2048.2" x2="1965.5" y2="1999.3" stroke="#ff0000" stroke-width="6.4" stroke-linecap="round"/>
<rect x="511.8" y="2907.1" width="33" height="33" fill="#ff0000"/>
<rect x="877.0" y="2696.2" width="33" height="33" fill="#ff0000"/>
<rect x="1242.2" y="2386.9" width="33" height="33" fill="#ff0000"/>
<rect x="1607.5" y="2035.4" width="33" height="33" fill="#ff0000"/>
<rect x="1972.7" y="1979.1" width="33" height="33" fill="#ff0000"/>
<line x1="548.4" y1="3093.2" x2="873.4" y2="2880.5" stroke="#0000ff" stroke-width="6.4" stroke-linecap="round"/>
<line x1="915.3" y1="2857.3" x2="1237.0" y2="2708.7" stroke="#0000ff" stroke-width="6.4" stroke-linecap="round"/>
<line x1="1276.4" y1="2682.3" x2="1606.3" y2="2377.5" stroke="#0000ff" stroke-width="6.4" stroke-linecap="round"/>
<line x1="1647.8" y1="2358.4" x2="1965.3" y2="2321.8" stroke="#0000ff" stroke-width="6.4" stroke-linecap="round"/>
<rect x="511.8" y="3089.9" width="33" height="33" fill="#0000ff"/>
<rect x="877.0" y="2850.8" width="33" height="33" fill="#0000ff"/>
<rect x="1242.2" y="2682.1" width="33" height="33" fill="#0000ff"/>
<rect x="1607.5" y="2344.7" width="33" height="33" fill="#0000ff"/>
<rect x="1972.7" y="2302.5" width="33" height="33" fill="#0000ff"/>
<line x1="551.5" y1="3212.6" x2="870.4" y2="3126.7" stroke="#00ff00" stroke-width="6.4" stroke-linecap="round"/>
<line x1="907.6" y1="3101.0" x2="1244.7" y2="2633.7" stroke="#00ff00" stroke-width="6.4" stroke-linecap="round"/>
<line x1="1273.9" y1="2595.6" x2="1608.8" y2="2183.0" stroke="#00ff00" stroke-width="6.4" stroke-linecap="round"/>
<line x1="1647.9" y1="2162.5" x2="1965.3" y2="2138.1" stroke="#00ff00" stroke-width="6.4" stroke-linecap="round"/>
<rect x="511.8" y="3202.3" width="33" height="33" fill="#00ff00"/>
<rect x="877.0" y="3103.9" width="33" height="33" fill="#00ff00"/>
<rect x="1242.2" y="2597.8" width="33" height="33" fill="#00ff00"/>
<rect x="1607.5" y="2147.8" width="33" height="33" fill="#00ff00"/>
<rect x="1972.7" y="2119.7" width="33" height="33" fill="#00ff00"/>
<line x1="551.9" y1="3087.8" x2="870.0" y2="3026.5" stroke="#ff8000" stroke-width="6.4" stroke-linecap="round"/>
<line x1="915.0" y1="3011.3" x2="1237.3" y2="2850.0" stroke="#ff8000" stroke-width="6.4" stroke-linecap="round"/>
<line x1="1273.9" y1="2820.6" x2="1608.8" y2="2407.9" stroke="#ff8000" stroke-width="6.4" stroke-linecap="round"/>
<line x1="1646.4" y1="2380.7" x2="1966.8" y2="2257.3" stroke="#ff8000" stroke-width="6.4" stroke-linecap="round"/>
<rect x="511.8" y="3075.8" width="33" height="33" fill="#ff8000"/>
<rect x="877.0" y="3005.5" width="33" height="33" fill="#ff8000"/>
<rect x="1242.2" y="2822.7" width="33" height="33" fill="#ff8000"/>
<rect x="1607.5" y="2372.8" width="33" height="33" fill="#ff8000"/>
<rect x="1972.7" y="2232.2" width="33" height="33" fill="#ff8000"/>
<rect x="379" y="1923" width="853.5" height="438.5" fill="#fff" stroke="#000" stroke-width="1.9"/>
<path d="M387.4,1971.5 H442.6 M487,1971.5 H543" stroke="#000" stroke-width="7" fill="none" stroke-linecap="round"/>
<rect x="449" y="1954.9" width="32.4" height="32.4" fill="#000"/>
<text transform="translate(564 1995.5) scale(1.0 1.04)" font-size="68.8">GIC</text>
<path d="M387.4,2057.2 H442.6 M487,2057.2 H543" stroke="#ff0000" stroke-width="7" fill="none" stroke-linecap="round"/>
<rect x="449" y="2040.6" width="32.4" height="32.4" fill="#ff0000"/>
<text transform="translate(564 2081.2) scale(1.0 1.04)" font-size="68.8">GIC<tspan font-size="66" dy="7">+</tspan><tspan dy="-7">3 wt% Ca-clay</tspan></text>
<path d="M387.4,2142.2 H442.6 M487,2142.2 H543" stroke="#0000ff" stroke-width="7" fill="none" stroke-linecap="round"/>
<rect x="449" y="2125.6" width="32.4" height="32.4" fill="#0000ff"/>
<text transform="translate(564 2166.2) scale(1.0 1.04)" font-size="68.8">GIC<tspan font-size="66" dy="7">+</tspan><tspan dy="-7">7.5 wt% Ca-clay</tspan></text>
<path d="M387.4,2228 H442.6 M487,2228 H543" stroke="#00ff00" stroke-width="7" fill="none" stroke-linecap="round"/>
<rect x="449" y="2211.4" width="32.4" height="32.4" fill="#00ff00"/>
<text transform="translate(564 2252) scale(1.0 1.04)" font-size="68.8">GIC<tspan font-size="66" dy="7">+</tspan><tspan dy="-7">15 wt% Ca-clay</tspan></text>
<path d="M387.4,2313.6 H442.6 M487,2313.6 H543" stroke="#ff8000" stroke-width="7" fill="none" stroke-linecap="round"/>
<rect x="449" y="2297.0" width="32.4" height="32.4" fill="#ff8000"/>
<text transform="translate(564 2337.6) scale(1.0 1.04)" font-size="68.8">GIC<tspan font-size="66" dy="7">+</tspan><tspan dy="-7">15 wt% Na-clay</tspan></text>
</svg>
</body></html>
